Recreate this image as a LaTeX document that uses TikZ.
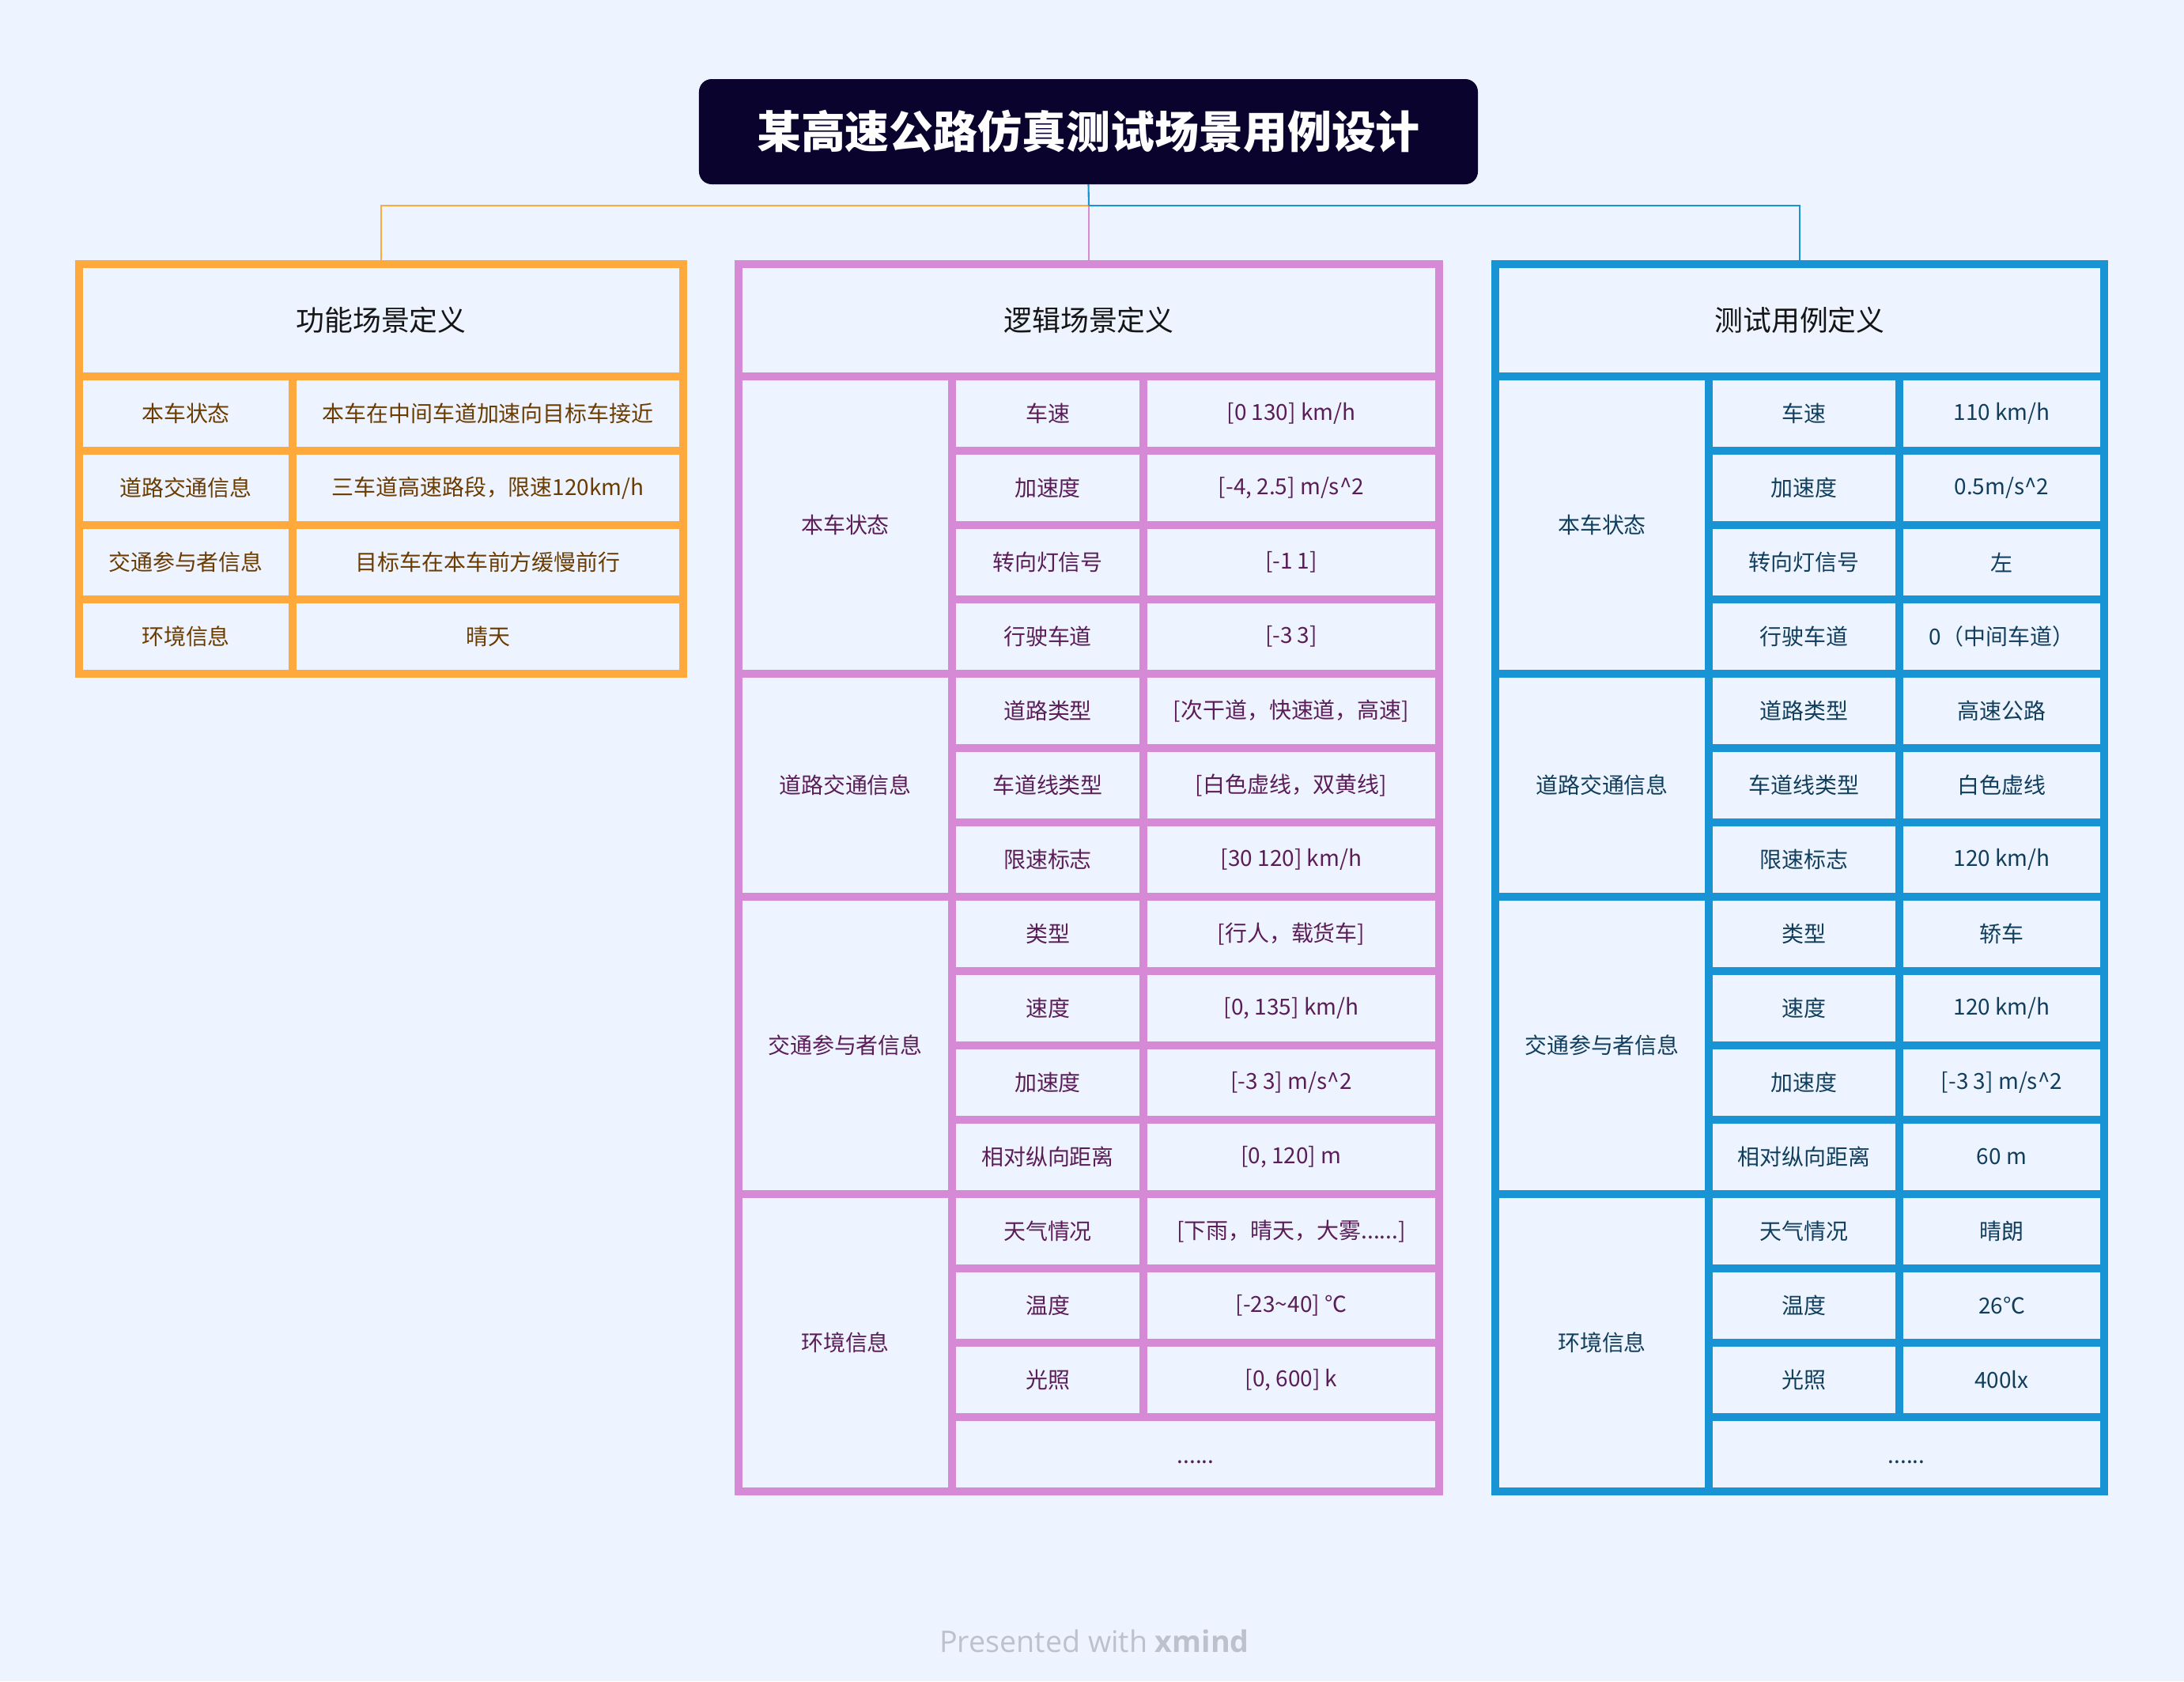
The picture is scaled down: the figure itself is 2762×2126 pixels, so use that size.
\documentclass[tikz,border=0pt]{standalone}
\usepackage{fontspec}
\setmainfont{Noto Sans CJK SC}
\newfontfamily\footfont{Open Sans}
\definecolor{bgc}{HTML}{EEF4FF}
\definecolor{titlec}{HTML}{0A032E}
\definecolor{orc}{HTML}{FFA83B}
\definecolor{puc}{HTML}{D68AD6}
\definecolor{blc}{HTML}{1893D4}
\definecolor{txtO}{HTML}{6B3C00}
\definecolor{txtP}{HTML}{5A1D57}
\definecolor{txtB}{HTML}{103E5C}
\definecolor{txtH}{HTML}{151515}
\definecolor{footc}{HTML}{BCC1CC}
\tikzset{
  cellbase/.style={fill=bgc, inner sep=0pt, outer sep=0pt, align=center,
    font=\fontsize{7.95}{10}\selectfont},
  cellO/.style={cellbase, text=txtO},
  cellP/.style={cellbase, text=txtP},
  cellB/.style={cellbase, text=txtB},
  headcell/.style={cellbase, text=txtH, font=\fontsize{10.2}{12}\selectfont},
  tableO/.style={fill=orc, inner sep=0pt, outer sep=0pt},
  tableP/.style={fill=puc, inner sep=0pt, outer sep=0pt},
  tableB/.style={fill=blc, inner sep=0pt, outer sep=0pt},
  titlebox/.style={fill=titlec, rounded corners=0.16cm, inner sep=0pt, outer sep=0pt,
    text=white, font=\fontsize{15.9}{18}\selectfont\bfseries},
  lineO/.style={draw=orc, line width=0.6pt},
  lineP/.style={draw=puc, line width=0.6pt},
  lineB/.style={draw=blc, line width=0.6pt},
}
% style, name, x1, y1, x2, y2, text
\newcommand{\mycell}[7]{%
  \pgfmathsetmacro\mycw{(#5-#3)*0.01}%
  \pgfmathsetmacro\mych{(#6-#4)*0.01}%
  \node[#1, minimum width=\mycw cm, minimum height=\mych cm] (#2) at ({(#3+#5)/2},{(#4+#6)/2}) {#7};%
}
\newcommand{\rowO}[3]{%
  \pgfmathtruncatemacro\rya{481+94*#1}%
  \pgfmathtruncatemacro\ryb{565+94*#1}%
  \mycell{cellO}{oa#1}{105}{\rya}{365}{\ryb}{#2}%
  \mycell{cellO}{ob#1}{375}{\rya}{859}{\ryb}{#3}%
}
\newcommand{\rowP}[3]{%
  \pgfmathtruncatemacro\rya{481+94*#1}%
  \pgfmathtruncatemacro\ryb{565+94*#1}%
  \mycell{cellP}{pa#1}{1209}{\rya}{1441}{\ryb}{#2}%
  \mycell{cellP}{pb#1}{1451}{\rya}{1815}{\ryb}{#3}%
}
\newcommand{\rowB}[3]{%
  \pgfmathtruncatemacro\rya{481+94*#1}%
  \pgfmathtruncatemacro\ryb{565+94*#1}%
  \mycell{cellB}{ba#1}{2166}{\rya}{2397}{\ryb}{#2}%
  \mycell{cellB}{bb#1}{2407}{\rya}{2656}{\ryb}{#3}%
}
\begin{document}
\begin{tikzpicture}[x=0.01cm, y=-0.01cm]
\fill[bgc] (0,0) rectangle (2762,2126);
\useasboundingbox (0,0) rectangle (2762,2126);

% title
\mycell{titlebox}{title}{884}{100}{1869}{233}{某高速公路仿真测试场景用例设计}

% table frames
\mycell{tableO}{ft}{95}{329}{869}{857}{}
\mycell{tableP}{lt}{929}{329}{1825}{1891}{}
\mycell{tableB}{tt}{1886}{329}{2666}{1891}{}

% connectors
\coordinate (j) at (1377,260);
\draw[lineP] (j) -- (lt.north);
\draw[lineO] (j) -| (ft.north);
\draw[lineB] (j) -| (tt.north);
\draw[lineB] (title.south) -- (j);

% orange table
\mycell{headcell}{fh}{105}{339}{859}{471}{功能场景定义}
\rowO{0}{本车状态}{本车在中间车道加速向目标车接近}
\rowO{1}{道路交通信息}{三车道高速路段，限速120km/h}
\rowO{2}{交通参与者信息}{目标车在本车前方缓慢前行}
\rowO{3}{环境信息}{晴天}

% purple table
\mycell{headcell}{lh}{939}{339}{1815}{471}{逻辑场景定义}
\mycell{cellP}{pg1}{939}{481}{1199}{847}{本车状态}
\mycell{cellP}{pg2}{939}{857}{1199}{1129}{道路交通信息}
\mycell{cellP}{pg3}{939}{1139}{1199}{1505}{交通参与者信息}
\mycell{cellP}{pg4}{939}{1515}{1199}{1881}{环境信息}
\rowP{0}{车速}{[0 130] km/h}
\rowP{1}{加速度}{[-4, 2.5] m/s\textasciicircum 2}
\rowP{2}{转向灯信号}{[-1 1]}
\rowP{3}{行驶车道}{[-3 3]}
\rowP{4}{道路类型}{[次干道，快速道，高速]}
\rowP{5}{车道线类型}{[白色虚线，双黄线]}
\rowP{6}{限速标志}{[30 120] km/h}
\rowP{7}{类型}{[行人，载货车]}
\rowP{8}{速度}{[0, 135] km/h}
\rowP{9}{加速度}{[-3 3] m/s\textasciicircum 2}
\rowP{10}{相对纵向距离}{[0, 120] m}
\rowP{11}{天气情况}{[下雨，晴天，大雾......]}
\rowP{12}{温度}{[-23\textasciitilde 40] ℃}
\rowP{13}{光照}{[0, 600] k}
\mycell{cellP}{pe}{1209}{1797}{1815}{1881}{\raisebox{-6.5pt}{......}}

% blue table
\mycell{headcell}{th}{1896}{339}{2656}{471}{测试用例定义}
\mycell{cellB}{bg1}{1896}{481}{2156}{847}{本车状态}
\mycell{cellB}{bg2}{1896}{857}{2156}{1129}{道路交通信息}
\mycell{cellB}{bg3}{1896}{1139}{2156}{1505}{交通参与者信息}
\mycell{cellB}{bg4}{1896}{1515}{2156}{1881}{环境信息}
\rowB{0}{车速}{110 km/h}
\rowB{1}{加速度}{0.5m/s\textasciicircum 2}
\rowB{2}{转向灯信号}{左}
\rowB{3}{行驶车道}{0（中间车道）}
\rowB{4}{道路类型}{高速公路}
\rowB{5}{车道线类型}{白色虚线}
\rowB{6}{限速标志}{120 km/h}
\rowB{7}{类型}{轿车}
\rowB{8}{速度}{120 km/h}
\rowB{9}{加速度}{[-3 3] m/s\textasciicircum 2}
\rowB{10}{相对纵向距离}{60 m}
\rowB{11}{天气情况}{晴朗}
\rowB{12}{温度}{26℃}
\rowB{13}{光照}{400lx}
\mycell{cellB}{be}{2166}{1797}{2656}{1881}{\raisebox{-6.5pt}{......}}

% footer
\node[text=footc, font=\footfont\fontsize{10.7}{12}\selectfont, inner sep=0pt] (foot) at (1384,2075) {Presented with {\bfseries xmind}};
\end{tikzpicture}
\end{document}
